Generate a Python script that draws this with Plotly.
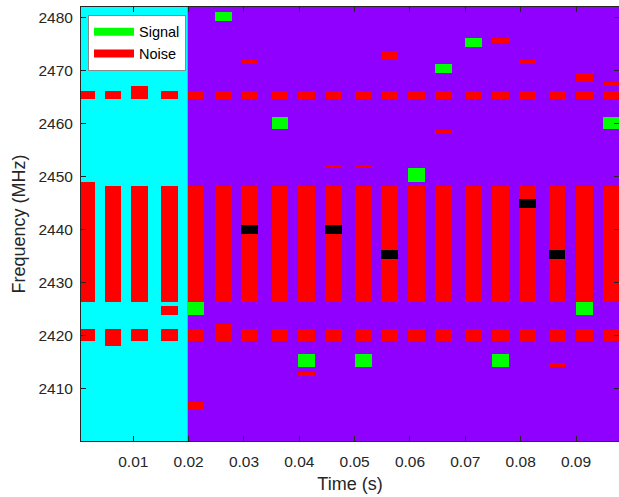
import plotly.graph_objects as go

# Time slots (start of each hop window, s) and their width
slot_start = [0.0000, 0.0048, 0.0096, 0.0150, 0.0198, 0.0248, 0.0295, 0.0350, 0.0398, 0.0447,
              0.0501, 0.0548, 0.0597, 0.0646, 0.0700, 0.0749, 0.0797, 0.0851, 0.0900, 0.0948]
slot_width = 0.0030

# Noise blocks: (slot index, low MHz, high MHz)
noise_main_low = [2426.3] * 20
noise_main_high = [2448.9] + [2448.2] * 19
noise_upper_low = [2464.6] * 20
noise_upper_high = [2466.1, 2466.1, 2467.0] + [2466.1] * 17
noise_lower_low = [2419.0, 2418.1] + [2419.0] * 18
noise_lower_high = [2421.3] * 5 + [2422.2] + [2421.3] * 14

noise_extra_slot = [3, 4, 6, 8, 9, 10, 11, 13, 15, 16, 17, 18, 19]
noise_extra_low = [2423.9, 2406.0, 2471.2, 2412.4, 2451.5, 2451.5, 2472.0, 2458.0,
                   2475.2, 2471.2, 2414.1, 2467.8, 2467.1]
noise_extra_high = [2425.5, 2407.5, 2472.0, 2413.2, 2452.2, 2452.2, 2473.6, 2458.8,
                    2476.0, 2472.0, 2414.8, 2469.4, 2467.8]

# Signal blocks
signal_slot = [4, 5, 7, 8, 10, 12, 13, 14, 15, 18, 19]
signal_low = [2423.9, 2479.3, 2458.9, 2414.1, 2414.1, 2449.0, 2469.5, 2474.4, 2414.1, 2423.9, 2458.9]
signal_high = [2426.3, 2480.9, 2461.2, 2416.5, 2416.5, 2451.5, 2471.1, 2476.0, 2416.5, 2426.3, 2461.2]

# Overlap blocks (signal hitting the noise band)
overlap_slot = [6, 9, 11, 16, 17]
overlap_low = [2439.1, 2439.1, 2434.4, 2444.0, 2434.4]
overlap_high = [2440.8, 2440.8, 2436.1, 2445.7, 2436.1]

# Background periods: (start, end, colour)
period_start = [0.0, 0.0198]
period_end = [0.0198, 0.11]
period_color = ["#00ffff", "#8f00ff"]

x_ticks = [0.01, 0.02, 0.03, 0.04, 0.05, 0.06, 0.07, 0.08, 0.09]
y_ticks = [2410, 2420, 2430, 2440, 2450, 2460, 2470, 2480]

FONT = "Liberation Sans, Arial, sans-serif"
AX = "#262626"


def blocks(slots, lows, highs, color):
    xs = [slot_start[s] + slot_width / 2 for s in slots]
    return go.Bar(
        x=xs, base=lows, y=[h - l for l, h in zip(lows, highs)],
        width=[slot_width] * len(xs), marker=dict(color=color, line=dict(width=0)),
        showlegend=False, hoverinfo="skip",
    )


all_slots = list(range(20))
fig = go.Figure()
fig.add_trace(blocks(all_slots, noise_main_low, noise_main_high, "#ff0000"))
fig.add_trace(blocks(all_slots, noise_upper_low, noise_upper_high, "#ff0000"))
fig.add_trace(blocks(all_slots, noise_lower_low, noise_lower_high, "#ff0000"))
fig.add_trace(blocks(noise_extra_slot, noise_extra_low, noise_extra_high, "#ff0000"))
fig.add_trace(blocks(signal_slot, signal_low, signal_high, "#00ff00"))
fig.add_trace(blocks(overlap_slot, overlap_low, overlap_high, "#000000"))

# Legend entries
for name, col in [("Signal", "#00ff00"), ("Noise", "#ff0000")]:
    fig.add_trace(go.Scatter(x=[None], y=[None], mode="lines", name=name,
                             line=dict(color=col, width=8)))

for x0, x1, c in zip(period_start, period_end, period_color):
    fig.add_shape(type="rect", xref="x", yref="paper", x0=x0, x1=x1, y0=0, y1=1,
                  fillcolor=c, line=dict(width=0), layer="below")

fig.update_layout(
    width=619, height=497,
    margin=dict(l=81, r=0, t=7, b=56),
    barmode="overlay", bargap=0,
    paper_bgcolor="white", plot_bgcolor="white",
    font=dict(family=FONT, color=AX, size=15.5),
    legend=dict(x=0.013, y=0.982, xanchor="left", yanchor="top",
                bgcolor="white", bordercolor="#8a8a8a", borderwidth=1,
                font=dict(size=14.5, family=FONT, color="#000000"),
                itemwidth=40, tracegroupgap=0),
    xaxis=dict(range=[0.00055, 0.09777], tickvals=x_ticks,
               ticktext=[f"{v:.2f}" for v in x_ticks],
               ticks="inside", ticklen=5, tickcolor=AX, showline=True, linecolor=AX,
               mirror="ticks", showgrid=False, zeroline=False, ticklabelstandoff=6,
               title=dict(text="Time (s)", font=dict(size=18), standoff=8)),
    yaxis=dict(range=[2400.1, 2481.9], tickvals=y_ticks,
               ticks="inside", ticklen=5, tickcolor=AX, showline=True, linecolor=AX,
               mirror="ticks", showgrid=False, zeroline=False, ticklabelstandoff=4,
               title=dict(text="Frequency (MHz)", font=dict(size=18), standoff=8)),
)

fig.write_html("out.html")
